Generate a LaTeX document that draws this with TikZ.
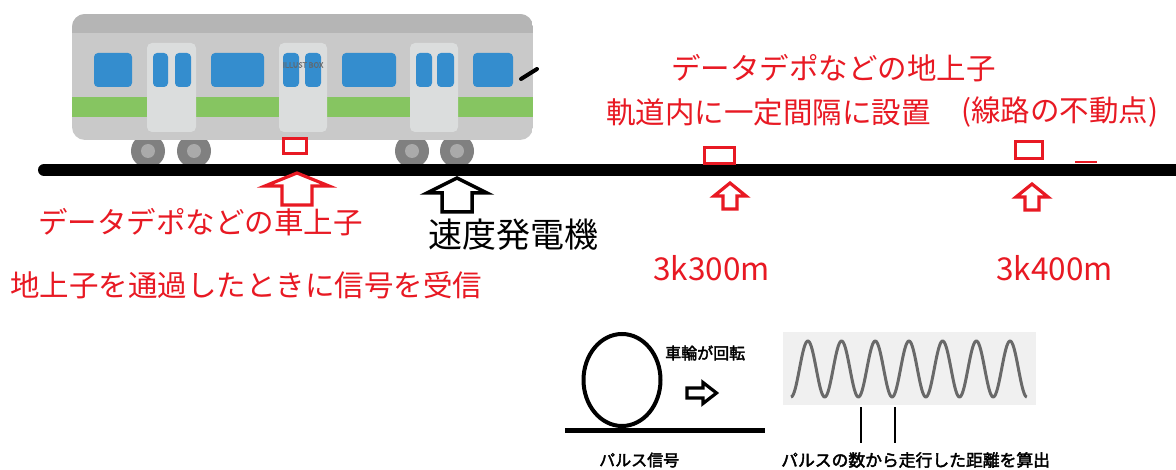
\documentclass[tikz,border=0pt]{standalone}
\usepackage{fontspec}
\newfontfamily\jp{Noto Sans CJK JP}
\newfontfamily\jpbold[FakeBold=2.5]{Noto Sans CJK JP}
\definecolor{sigred}{RGB}{232,25,35}
\definecolor{bodygray}{RGB}{201,201,201}
\definecolor{roofgray}{RGB}{181,181,181}
\definecolor{doorgray}{RGB}{219,221,221}
\definecolor{winblue}{RGB}{52,141,206}
\definecolor{stripegreen}{RGB}{134,197,97}
\definecolor{wheelgray}{RGB}{128,128,128}
\definecolor{hubgray}{RGB}{170,170,170}
\definecolor{wavegray}{RGB}{105,105,105}
\definecolor{panelgray}{RGB}{240,240,240}
% upward block arrow: options, x, tip y, head half width, head base y, shaft half width, bottom y
\newcommand{\UpBlock}[7]{%
  \draw[#1] (#2,#3) -- (#2+#4,#5) -- (#2+#6,#5) -- (#2+#6,#7)
    -- (#2-#6,#7) -- (#2-#6,#5) -- (#2-#4,#5) -- cycle;}
\begin{document}
\begin{tikzpicture}[x=1pt,y=-1pt,
  redtext/.style={inner sep=0pt, text=sigred, font=\jp\fontsize{29.5}{32}\selectfont},
  blacktext/.style={inner sep=0pt, text=black, font=\jp\fontsize{34}{36}\selectfont},
  smalltext/.style={inner sep=0pt, text=black, font=\jpbold\fontsize{16}{18}\selectfont},
  kmtext/.style={inner sep=0pt, text=sigred, font=\jp\fontsize{31.5}{34}\selectfont},
  window/.style={fill=winblue, rounded corners=4pt},
  door/.style={fill=doorgray, rounded corners=5pt},
  wheel/.style={fill=wheelgray},
  hub/.style={fill=hubgray},
  coil/.style={draw=sigred, line width=3pt, fill=white},
  redarrow/.style={draw=sigred, line width=3.2pt, fill=white, line join=miter},
  blackarrow/.style={draw=black, line width=3.5pt, fill=white, line join=miter},
]
\useasboundingbox (0,0) rectangle (1176,470);
\fill[white] (0,0) rectangle (1176,470);

% ---- train car ----
\foreach \wx in {148,194,412,457}{
  \fill[wheel] (\wx,151) circle (17);
  \fill[hub] (\wx,151) circle (7);
}
\begin{scope}
  \clip[rounded corners=13pt] (72,14) rectangle (533,140);
  \fill[bodygray] (72,14) rectangle (533,140);
  \fill[roofgray] (72,14) rectangle (533,33);
  \fill[stripegreen] (72,97) rectangle (533,117);
\end{scope}
\fill[door] (147,43) rectangle (196,132);
\fill[door] (279,43) rectangle (327,132);
\fill[door] (410,43) rectangle (458,132);
\fill[window] (94,53) rectangle (132,87);
\fill[window] (153,53) rectangle (168,87);
\fill[window] (175,53) rectangle (191,87);
\fill[window] (211,53) rectangle (264,87);
\fill[window] (283,53) rectangle (299,87);
\fill[window] (305,53) rectangle (321,87);
\fill[window] (342,53) rectangle (396,87);
\fill[window] (416,53) rectangle (432,87);
\fill[window] (437,53) rectangle (454,87);
\fill[window] (473,53) rectangle (513,87);
\node[inner sep=0pt, text=black!60, opacity=0.75,
  font=\jpbold\fontsize{7.5}{8}\selectfont] (mark) at (303,65) {ILLUST BOX};
\draw[line width=4pt, line cap=round] (521,79) -- (537,69);

% ---- track ----
\draw[line width=12pt, line cap=round] (44,170) -- (1182,170);

% on-board coil under the car and ground coils on the track
\draw[coil] (283,139) rectangle (306,154);
\draw[coil] (704,148) rectangle (734,164);
\draw[coil] (1015,142) rectangle (1042,159);
\draw[draw=sigred, line width=2pt] (1075,162.5) -- (1097,162.5);

% ---- pointer arrows ----
\UpBlock{redarrow}{297}{173}{32}{186}{15}{205}
\UpBlock{blackarrow}{457}{178}{30}{193}{15}{212}
\UpBlock{redarrow}{730}{183}{16}{196}{7}{209}
\UpBlock{redarrow}{1032}{184}{16}{197}{7}{210}

% ---- labels ----
\node[redtext, anchor=west] (carcoil) at (38,222) {データデポなどの車上子};
\node[redtext, anchor=west] (receive) at (10,285) {地上子を通過したときに信号を受信};
\node[blacktext, anchor=west] (tg) at (428,235) {速度発電機};
\node[redtext, anchor=west] (groundcoil) at (671,68) {データデポなどの地上子};
\node[redtext, anchor=west] (interval) at (606,112) {軌道内に一定間隔に設置};
\node[redtext, anchor=west] (fixed) at (961,112) {(線路の不動点)};
\node[kmtext, anchor=west] (km300) at (653,268) {3k300m};
\node[kmtext, anchor=west] (km400) at (996,268) {3k400m};

% ---- tachogenerator principle ----
\draw[line width=4pt] (622,380) ellipse [x radius=38.5, y radius=46];
\draw[line width=5pt] (565,430) -- (765,430);
\node[smalltext, anchor=west] (rotate) at (665,353) {車輪が回転};
\draw[blackarrow, line width=3.2pt] (687,388) -- (703,388) -- (703,382.5) -- (716.5,393)
  -- (703,403.5) -- (703,398) -- (687,398) -- cycle;
\node[smalltext, anchor=west] (pulse) at (599,460) {パルス信号};

\fill[panelgray] (783,332) rectangle (1036,405);
\draw[wavegray, line width=3pt, line join=round]
  plot[domain=0:7, samples=281, smooth] ({791+33.7*\x},{369+28*cos(360*\x)});
\draw[line width=1.5pt] (861,407) -- (861,443);
\draw[line width=1.5pt] (895,407) -- (895,443);
\node[smalltext, anchor=west, font=\jpbold\fontsize{16.8}{18}\selectfont] (count) at (781,460)
  {パルスの数から走行した距離を算出};
\end{tikzpicture}
\end{document}
